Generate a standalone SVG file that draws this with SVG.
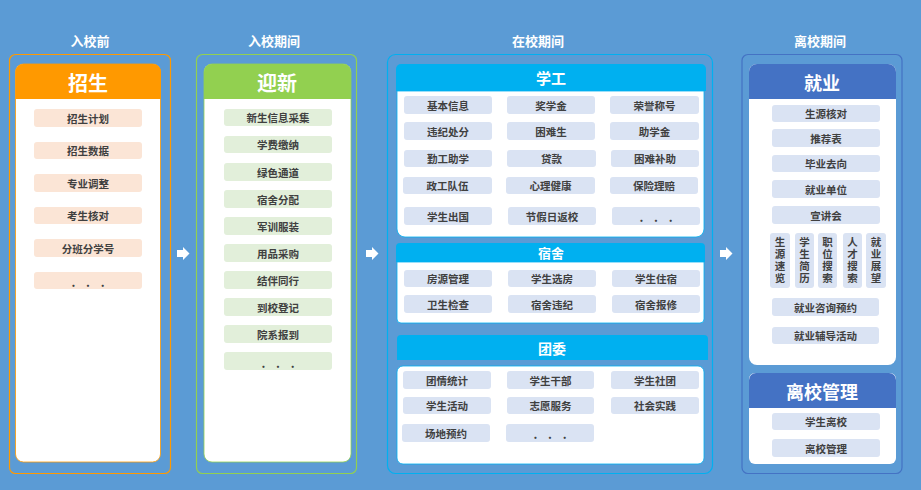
<svg xmlns="http://www.w3.org/2000/svg" width="921" height="490" viewBox="0 0 921 490">
<defs>
<style>
text{font-family:"Noto Sans CJK SC","Liberation Sans",sans-serif;font-weight:bold;text-anchor:middle;dominant-baseline:central}
.ttl{fill:#fff;font-size:13px}
.it{fill:#404040;font-size:10.5px}
.dots{fill:#404040;font-size:12px;letter-spacing:4px}
.vt{fill:#404040;font-size:10.5px;writing-mode:vertical-rl;letter-spacing:1.5px}
.hd{fill:#fff}
.o{fill:#fbe5d6}
.g{fill:#e2efda}
.b{fill:#dae3f3}
.panel{fill:#fff}
.arr{fill:#fff}
</style>
</defs>
<rect width="921" height="490" fill="#5b9bd5"/>

<!-- Column 1 -->
<g id="col-before">
<text class="ttl" x="90" y="40">入校前</text>
<rect x="9.5" y="54.5" width="161" height="419" rx="6" fill="none" stroke="#ff9900" stroke-width="1.2"/>
<rect x="15.5" y="64" width="145" height="398" rx="8" class="panel" stroke="#ff9900" stroke-width="0.8"/>
<path d="M15.5,99 V72 a8,8 0 0 1 8,-8 H153 a8,8 0 0 1 8,8 V99 Z" fill="#ff9900"/>
<text class="hd" x="88" y="82" font-size="20">招生</text>
</g>
<g id="zs-items">
<rect class="o" x="34" y="109" width="108" height="18" rx="3"/><text class="it" x="88" y="118">招生计划</text>
<rect class="o" x="34" y="142" width="108" height="17" rx="3"/><text class="it" x="88" y="150.5">招生数据</text>
<rect class="o" x="34" y="174" width="108" height="18" rx="3"/><text class="it" x="88" y="183">专业调整</text>
<rect class="o" x="34" y="207" width="108" height="17" rx="3"/><text class="it" x="88" y="215.5">考生核对</text>
<rect class="o" x="34" y="239" width="108" height="18" rx="3"/><text class="it" x="88" y="248">分班分学号</text>
<rect class="o" x="34" y="272" width="108" height="17" rx="3"/><text class="dots" x="90" y="281">. . .</text>
</g>

<!-- Column 2 -->
<g id="col-entry">
<text class="ttl" x="274" y="40">入校期间</text>
<rect x="196.5" y="54.5" width="160" height="419" rx="6" fill="none" stroke="#92d050" stroke-width="1.2"/>
<rect x="204" y="64" width="147" height="398" rx="8" class="panel" stroke="#92d050" stroke-width="0.8"/>
<path d="M204,99 V72 a8,8 0 0 1 8,-8 H343 a8,8 0 0 1 8,8 V99 Z" fill="#92d050"/>
<text class="hd" x="277" y="82" font-size="20">迎新</text>
</g>
<g id="yx-items">
<rect class="g" x="224" y="109" width="108" height="17" rx="3"/><text class="it" x="278" y="117.5">新生信息采集</text>
<rect class="g" x="224" y="136" width="108" height="17" rx="3"/><text class="it" x="278" y="144.5">学费缴纳</text>
<rect class="g" x="224" y="163" width="108" height="18" rx="3"/><text class="it" x="278" y="172">绿色通道</text>
<rect class="g" x="224" y="190" width="108" height="18" rx="3"/><text class="it" x="278" y="199">宿舍分配</text>
<rect class="g" x="224" y="217" width="108" height="18" rx="3"/><text class="it" x="278" y="226">军训服装</text>
<rect class="g" x="224" y="244" width="108" height="18" rx="3"/><text class="it" x="278" y="253">用品采购</text>
<rect class="g" x="224" y="271" width="108" height="18" rx="3"/><text class="it" x="278" y="280">结伴同行</text>
<rect class="g" x="224" y="298" width="108" height="18" rx="3"/><text class="it" x="278" y="307">到校登记</text>
<rect class="g" x="224" y="325" width="108" height="18" rx="3"/><text class="it" x="278" y="334">院系报到</text>
<rect class="g" x="224" y="352" width="108" height="18" rx="3"/><text class="dots" x="280" y="362">. . .</text>
</g>

<!-- Column 3 -->
<g id="col-school">
<text class="ttl" x="538" y="40">在校期间</text>
<rect x="387.5" y="54.5" width="325" height="419" rx="8" fill="none" stroke="#00b0f0" stroke-width="1.2"/>
</g>
<g id="xg">
<path d="M396,91 V69 a5,5 0 0 1 5,-5 H701 a5,5 0 0 1 5,5 V91 Z" fill="#00b0f0"/>
<text class="hd" x="551" y="77.5" font-size="15">学工</text>
<path d="M397,91 H704 V229 a8,8 0 0 1 -8,8 H405 a8,8 0 0 1 -8,-8 Z" class="panel" stroke="#00b0f0" stroke-width="0.8"/>
<rect class="b" x="404" y="96" width="88" height="18" rx="3"/><text class="it" x="448" y="105">基本信息</text>
<rect class="b" x="507" y="96" width="88" height="18" rx="3"/><text class="it" x="551" y="105">奖学金</text>
<rect class="b" x="610" y="96" width="89" height="18" rx="3"/><text class="it" x="654.5" y="105">荣誉称号</text>
<rect class="b" x="404" y="122" width="88" height="18" rx="3"/><text class="it" x="448" y="131">违纪处分</text>
<rect class="b" x="507" y="122" width="88" height="18" rx="3"/><text class="it" x="551" y="131">困难生</text>
<rect class="b" x="610" y="122" width="89" height="18" rx="3"/><text class="it" x="654.5" y="131">助学金</text>
<rect class="b" x="404" y="150" width="88" height="17" rx="3"/><text class="it" x="448" y="158.5">勤工助学</text>
<rect class="b" x="507" y="150" width="89" height="17" rx="3"/><text class="it" x="551.5" y="158.5">贷款</text>
<rect class="b" x="611" y="150" width="88" height="17" rx="3"/><text class="it" x="655" y="158.5">困难补助</text>
<rect class="b" x="403" y="177" width="89" height="17" rx="3"/><text class="it" x="447.5" y="185.5">政工队伍</text>
<rect class="b" x="506" y="177" width="89" height="17" rx="3"/><text class="it" x="550.5" y="185.5">心理健康</text>
<rect class="b" x="610" y="177" width="88" height="17" rx="3"/><text class="it" x="654" y="185.5">保险理赔</text>
<rect class="b" x="404" y="207" width="88" height="18" rx="3"/><text class="it" x="448" y="216">学生出国</text>
<rect class="b" x="508" y="207" width="88" height="18" rx="3"/><text class="it" x="552" y="216">节假日返校</text>
<rect class="b" x="612" y="207" width="88" height="18" rx="3"/><text class="dots" x="658" y="216">. . .</text>
</g>
<g id="ss">
<path d="M396,262 V247 a4,4 0 0 1 4,-4 H701 a4,4 0 0 1 4,4 V262 Z" fill="#00b0f0"/>
<text class="hd" x="551" y="252" font-size="13">宿舍</text>
<path d="M397,262 H704 V319 a4,4 0 0 1 -4,4 H401 a4,4 0 0 1 -4,-4 Z" class="panel" stroke="#00b0f0" stroke-width="0.8"/>
<rect class="b" x="404" y="270" width="88" height="17" rx="3"/><text class="it" x="448" y="278.5">房源管理</text>
<rect class="b" x="508" y="270" width="88" height="17" rx="3"/><text class="it" x="552" y="278.5">学生选房</text>
<rect class="b" x="612" y="270" width="88" height="17" rx="3"/><text class="it" x="656" y="278.5">学生住宿</text>
<rect class="b" x="404" y="295" width="88" height="18" rx="3"/><text class="it" x="448" y="304">卫生检查</text>
<rect class="b" x="508" y="295" width="88" height="18" rx="3"/><text class="it" x="552" y="304">宿舍违纪</text>
<rect class="b" x="612" y="295" width="88" height="18" rx="3"/><text class="it" x="656" y="304">宿舍报修</text>
</g>
<g id="tw">
<path d="M397,360 V339 a4,4 0 0 1 4,-4 H704 a4,4 0 0 1 4,4 V360 Z" fill="#00b0f0"/>
<text class="hd" x="552" y="347.5" font-size="14">团委</text>
<rect x="397" y="366" width="307" height="98" rx="6" class="panel" stroke="#00b0f0" stroke-width="0.8"/>
<rect class="b" x="403" y="371" width="88" height="18" rx="3"/><text class="it" x="447" y="380">团情统计</text>
<rect class="b" x="507" y="371" width="87" height="18" rx="3"/><text class="it" x="550.5" y="380">学生干部</text>
<rect class="b" x="611" y="371" width="88" height="18" rx="3"/><text class="it" x="655" y="380">学生社团</text>
<rect class="b" x="403" y="397" width="88" height="17" rx="3"/><text class="it" x="447" y="405.5">学生活动</text>
<rect class="b" x="507" y="397" width="87" height="17" rx="3"/><text class="it" x="550.5" y="405.5">志愿服务</text>
<rect class="b" x="611" y="397" width="88" height="17" rx="3"/><text class="it" x="655" y="405.5">社会实践</text>
<rect class="b" x="402" y="424" width="88" height="18" rx="3"/><text class="it" x="446" y="433">场地预约</text>
<rect class="b" x="506" y="424" width="88" height="18" rx="3"/><text class="dots" x="552" y="433">. . .</text>
</g>

<!-- Column 4 -->
<g id="col-leave">
<text class="ttl" x="820" y="40">离校期间</text>
<rect x="742" y="54.5" width="160" height="419" rx="6" fill="none" stroke="#4472c4" stroke-width="1.2"/>
</g>
<g id="jy">
<rect x="749" y="64" width="147" height="301" rx="8" class="panel"/>
<path d="M749,99 V72 a8,8 0 0 1 8,-8 H888 a8,8 0 0 1 8,8 V99 Z" fill="#4472c4"/>
<text class="hd" x="822" y="82" font-size="18">就业</text>
<rect class="b" x="772" y="105" width="108" height="17" rx="3"/><text class="it" x="826" y="113.5">生源核对</text>
<rect class="b" x="772" y="129" width="108" height="18" rx="3"/><text class="it" x="826" y="138">推荐表</text>
<rect class="b" x="772" y="155" width="108" height="17" rx="3"/><text class="it" x="826" y="163.5">毕业去向</text>
<rect class="b" x="772" y="180" width="108" height="18" rx="3"/><text class="it" x="826" y="189">就业单位</text>
<rect class="b" x="772" y="206" width="108" height="18" rx="3"/><text class="it" x="826" y="215">宣讲会</text>
<rect class="b" x="770" y="233" width="20" height="55" rx="3"/><text class="vt" x="780" y="261">生源速览</text>
<rect class="b" x="795" y="233" width="19" height="55" rx="3"/><text class="vt" x="804.5" y="261">学生简历</text>
<rect class="b" x="818" y="233" width="19" height="55" rx="3"/><text class="vt" x="827.5" y="261">职位搜索</text>
<rect class="b" x="843" y="233" width="19" height="55" rx="3"/><text class="vt" x="852.5" y="261">人才搜索</text>
<rect class="b" x="866" y="233" width="20" height="55" rx="3"/><text class="vt" x="876" y="261">就业展望</text>
<rect class="b" x="772" y="298" width="107" height="18" rx="3"/><text class="it" x="825.5" y="307">就业咨询预约</text>
<rect class="b" x="772" y="327" width="107" height="17" rx="3"/><text class="it" x="825.5" y="335.5">就业辅导活动</text>
</g>
<g id="lxgl">
<rect x="749" y="373" width="147" height="91" rx="6" class="panel"/>
<path d="M749,408 V380 a7,7 0 0 1 7,-7 H889 a7,7 0 0 1 7,7 V408 Z" fill="#4472c4"/>
<text class="hd" x="822" y="391" font-size="18">离校管理</text>
<rect class="b" x="772" y="413" width="108" height="17" rx="3"/><text class="it" x="826" y="421.5">学生离校</text>
<rect class="b" x="772" y="439" width="108" height="18" rx="3"/><text class="it" x="826" y="448">离校管理</text>
</g>

<!-- Connectors -->
<g id="connectors">
<path class="arr" d="M177,250 H183 V247 L189.5,253.5 L183,260 V257 H177 Z"/>
<path class="arr" d="M366,250 H372 V247 L378.5,253.5 L372,260 V257 H366 Z"/>
<path class="arr" d="M720,250 H726 V247 L732.5,253.5 L726,260 V257 H720 Z"/>
</g>
</svg>
